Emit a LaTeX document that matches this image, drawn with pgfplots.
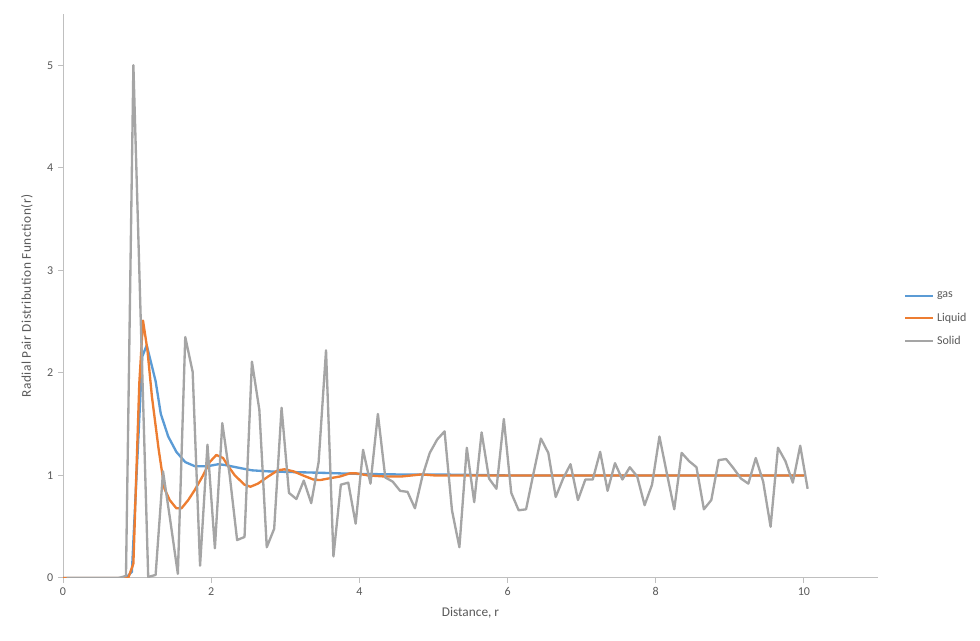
\documentclass[border=0pt]{standalone}
\usepackage{pgfplots}
\pgfplotsset{compat=1.18}
\usepackage{fontspec}
\setmainfont{Carlito}
\definecolor{cgas}{HTML}{5B9BD5}
\definecolor{cliq}{HTML}{ED7D31}
\definecolor{csol}{HTML}{A5A5A5}
\definecolor{ctxt}{HTML}{595959}
\definecolor{caxis}{HTML}{BFBFBF}
\begin{document}
\begin{tikzpicture}
\useasboundingbox (0,0) rectangle (735pt,480.75pt);
\begin{axis}[
  at={(47.25pt,47.25pt)}, anchor=south west,
  scale only axis, width=611.25pt, height=423pt,
  xmin=0, xmax=11, ymin=0, ymax=5.5,
  xtick={0,2,4,6,8,10}, ytick={0,1,2,3,4,5},
  axis x line*=bottom, axis y line*=left,
  axis line style={draw=caxis, line width=0.75pt, -},
  tick style={draw=caxis, line width=0.75pt},
  tick align=outside, major tick length=3.75pt,
  ticklabel style={font=\fontsize{9}{11}\selectfont, text=ctxt},
  /pgf/number format/assume math mode=true,
  xlabel={Distance, r}, ylabel={Radial Pair Distribution Function(r)},
  xlabel style={font=\fontsize{10}{12}\selectfont, text=ctxt, at={(axis description cs:0.5,-0.0621)}, anchor=center},
  ylabel style={font=\fontsize{10}{12}\selectfont\addfontfeature{LetterSpace=4}, text=ctxt, at={(axis description cs:-0.0442,0.5)}, anchor=center},
  legend style={draw=none, fill=none, at={(axis description cs:1,0.459)}, anchor=west, xshift=19.5pt,
    font=\fontsize{9}{11}\selectfont, text=ctxt, row sep=5.8pt, inner sep=0pt},
  legend cell align=left,
  legend image code/.code={\draw[#1] (0pt,0pt) -- (20.8pt,0pt);},
  every axis plot/.append style={line width=1.75pt, line join=round, mark=none},
]
\addplot[cgas] coordinates {
(0,0) (0.85,0) (0.93,0.06) (1.07,2.16) (1.13,2.27) (1.25,1.92) (1.32,1.6) (1.42,1.38) (1.53,1.23) (1.65,1.13) (1.78,1.09) (1.95,1.09) (2.1,1.11) (2.2,1.1) (2.37,1.075) (2.55,1.05) (2.77,1.04) (2.99,1.035) (3.26,1.03) (3.53,1.025) (3.74,1.02) (4.0,1.015) (4.5,1.01) (5.0,1.01) (6.0,1.0) (10.0,1.0)
};
\addlegendentry{gas}
\addplot[cliq] coordinates {
(0,0) (0.88,0) (0.95,0.14) (1.03,1.9) (1.08,2.51) (1.14,2.22) (1.2,1.77) (1.29,1.26) (1.37,0.87) (1.44,0.76) (1.53,0.68) (1.6,0.68) (1.69,0.76) (1.78,0.86) (1.89,1.0) (1.98,1.13) (2.07,1.2) (2.16,1.17) (2.25,1.07) (2.32,1.0) (2.45,0.91) (2.53,0.89) (2.63,0.92) (2.77,0.99) (2.9,1.05) (2.99,1.06) (3.11,1.04) (3.24,1.0) (3.38,0.96) (3.47,0.955) (3.58,0.97) (3.74,0.99) (3.87,1.02) (3.96,1.02) (4.12,1.0) (4.34,0.99) (4.57,0.99) (4.84,1.01) (5.02,1.0) (10.0,1.0)
};
\addlegendentry{Liquid}
\addplot[csol] coordinates {
(0.05,0) (0.15,0) (0.25,0) (0.35,0) (0.45,0) (0.55,0) (0.65,0) (0.75,0) (0.85,0.02) (0.95,5.0)
(1.05,2.5) (1.15,0.01) (1.25,0.03) (1.35,1.04) (1.45,0.55) (1.55,0.04) (1.65,2.35) (1.75,2.01) (1.85,0.12) (1.95,1.30)
(2.05,0.29) (2.15,1.51) (2.25,1.0) (2.35,0.37) (2.45,0.40) (2.55,2.11) (2.65,1.64) (2.75,0.30) (2.85,0.48) (2.95,1.66)
(3.05,0.83) (3.15,0.77) (3.25,0.95) (3.35,0.73) (3.45,1.13) (3.55,2.22) (3.65,0.21) (3.75,0.91) (3.85,0.93) (3.95,0.53)
(4.05,1.25) (4.15,0.92) (4.25,1.60) (4.35,0.98) (4.45,0.94) (4.55,0.85) (4.65,0.84) (4.75,0.68) (4.85,0.99) (4.95,1.22)
(5.05,1.35) (5.15,1.43) (5.25,0.66) (5.35,0.30) (5.45,1.27) (5.55,0.74) (5.65,1.42) (5.75,0.97) (5.85,0.87) (5.95,1.55)
(6.05,0.83) (6.15,0.66) (6.25,0.67) (6.35,1.02) (6.45,1.36) (6.55,1.22) (6.65,0.79) (6.75,0.97) (6.85,1.11) (6.95,0.76)
(7.05,0.96) (7.15,0.96) (7.25,1.23) (7.35,0.85) (7.45,1.12) (7.55,0.96) (7.65,1.08) (7.75,0.99) (7.85,0.71) (7.95,0.91)
(8.05,1.38) (8.15,1.02) (8.25,0.67) (8.35,1.22) (8.45,1.14) (8.55,1.08) (8.65,0.67) (8.75,0.76) (8.85,1.15) (8.95,1.16)
(9.05,1.07) (9.15,0.97) (9.25,0.92) (9.35,1.17) (9.45,0.94) (9.55,0.50) (9.65,1.27) (9.75,1.14) (9.85,0.93) (9.95,1.29)
(10.05,0.87)
};
\addlegendentry{Solid}
\end{axis}
\end{tikzpicture}
\end{document}
